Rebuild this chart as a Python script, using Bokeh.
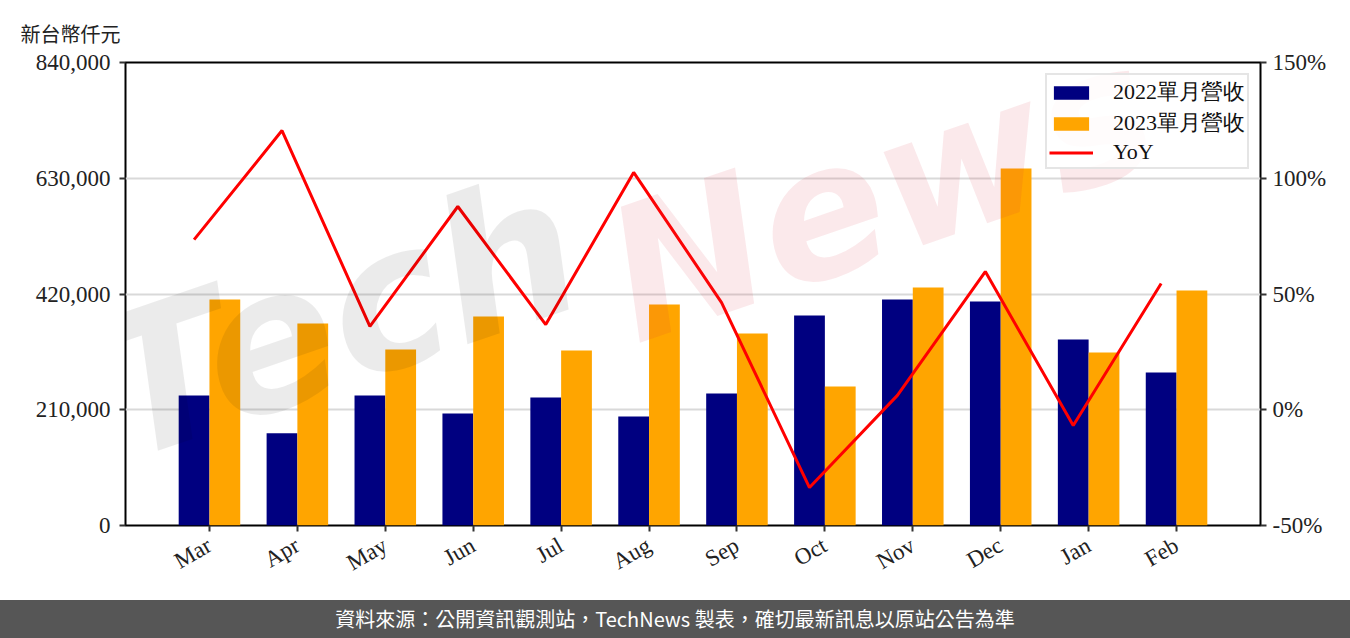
from bokeh.plotting import figure
from bokeh.models import (FactorRange, Range1d, LinearAxis, FixedTicker, NumeralTickFormatter,
                          PrintfTickFormatter, ColumnDataSource, Legend, LegendItem, Label, Div)
from bokeh.transform import dodge
from bokeh.layouts import column
from bokeh.embed import file_html
from bokeh.resources import INLINE
import math

months = ["Mar", "Apr", "May", "Jun", "Jul", "Aug", "Sep", "Oct", "Nov", "Dec", "Jan", "Feb"]
rev_2022 = [235900, 167500, 235900, 203200, 232200, 197800, 239500, 381000, 410000, 406400, 337500, 277600]
rev_2023 = [410000, 366500, 319300, 379200, 317500, 401000, 348300, 252200, 431800, 647700, 313900, 426400]
yoy = [73.5, 120.6, 36.0, 87.8, 36.8, 102.5, 46.3, -33.6, 6.2, 59.7, -6.8, 54.5]
left_ticks = [0, 210000, 420000, 630000, 840000]
right_ticks = [-50, 0, 50, 100, 150]

SERIF = "Liberation Serif"
FS = "23px"

src = ColumnDataSource(dict(month=months, r22=rev_2022, r23=rev_2023, yoy=yoy))

p = figure(width=1350, height=600, output_backend="svg", toolbar_location=None,
           x_range=FactorRange(*months, range_padding=0.455, range_padding_units="absolute"),
           y_range=Range1d(0, 840000),
           min_border_left=125, min_border_right=90, min_border_top=62, min_border_bottom=75)
p.outline_line_color = "black"
p.outline_line_width = 2
p.background_fill_color = "white"
p.border_fill_color = "white"

p.title.text = "新台幣仟元"
p.title.align = "left"
p.title.offset = -105
p.title.standoff = 30
p.title.text_font = "Noto Sans CJK TC"
p.title.text_font_size = "20px"
p.title.text_font_style = "normal"
p.title.text_color = "#222222"

p.extra_y_ranges = {"pct": Range1d(-50, 150)}

b22 = p.vbar(x=dodge("month", -0.175, range=p.x_range), top="r22", width=0.35, source=src,
             fill_color="#000080", line_color=None)
b23 = p.vbar(x=dodge("month", 0.175, range=p.x_range), top="r23", width=0.35, source=src,
             fill_color="#FFA500", line_color=None)
ln = p.line(x=dodge("month", -0.175, range=p.x_range), y="yoy", source=src, y_range_name="pct",
            line_color="#FF0000", line_width=3)

def style_axis(ax):
    ax.major_label_text_font = SERIF
    ax.major_label_text_font_size = FS
    ax.major_label_text_color = "#222222"
    ax.axis_line_color = None
    ax.major_tick_line_color = "#333333"
    ax.major_tick_line_width = 2
    ax.major_tick_out = 6
    ax.major_tick_in = 0
    ax.minor_tick_line_color = None

style_axis(p.xaxis[0])
p.xaxis.major_label_orientation = math.radians(30)
p.xaxis.major_label_standoff = 12

p.yaxis.ticker = FixedTicker(ticks=left_ticks)
p.yaxis.formatter = NumeralTickFormatter(format="0,0")
style_axis(p.yaxis[0])
p.yaxis.major_label_standoff = 9

ra = LinearAxis(y_range_name="pct", ticker=FixedTicker(ticks=right_ticks),
                formatter=PrintfTickFormatter(format="%d%%"))
style_axis(ra)
ra.major_label_standoff = 6
p.add_layout(ra, "right")

p.xgrid.grid_line_color = None
p.ygrid.grid_line_color = "#d9d9d9"
p.ygrid.grid_line_width = 2
p.ygrid.ticker = FixedTicker(ticks=left_ticks)

# watermark (screen units relative to the plot frame)
wm1 = Label(x=15, y=20, x_units="screen", y_units="screen", text="Tech",
            angle=math.radians(19), text_font="DejaVu Sans",
            text_font_size="195px", text_font_style="bold italic",
            text_color="black", text_alpha=0.08)
wm2 = Label(x=525, y=140, x_units="screen", y_units="screen", text="News",
            angle=math.radians(19), text_font="DejaVu Sans",
            text_font_size="185px", text_font_style="bold italic",
            text_color="#DC2838", text_alpha=0.1)
p.add_layout(wm1)
p.add_layout(wm2)

legend = Legend(items=[LegendItem(label="2022單月營收", renderers=[b22]),
                       LegendItem(label="2023單月營收", renderers=[b23]),
                       LegendItem(label="YoY", renderers=[ln])],
                location="top_right")
legend.label_text_font = SERIF
legend.label_text_font_size = "22px"
legend.label_text_color = "#111111"
legend.glyph_width = 44
legend.glyph_height = 17
legend.label_standoff = 20
legend.label_height = 22
legend.spacing = 1
legend.padding = 2
legend.margin = 11
legend.border_line_color = "#cccccc"
legend.border_line_width = 2
legend.background_fill_alpha = 0.85
p.add_layout(legend)

footer = Div(text="資料來源：公開資訊觀測站，TechNews 製表，確切最新訊息以原站公告為準",
             width=1350, height=38, margin=(0, 0, 0, 0),
             styles={"background-color": "#565656", "color": "white",
                     "font-family": "'Noto Sans CJK TC', sans-serif", "font-size": "20px",
                     "text-align": "center", "line-height": "38px"})

layout = column(p, footer, spacing=0)
open("out.html", "w").write(file_html(layout, INLINE))
